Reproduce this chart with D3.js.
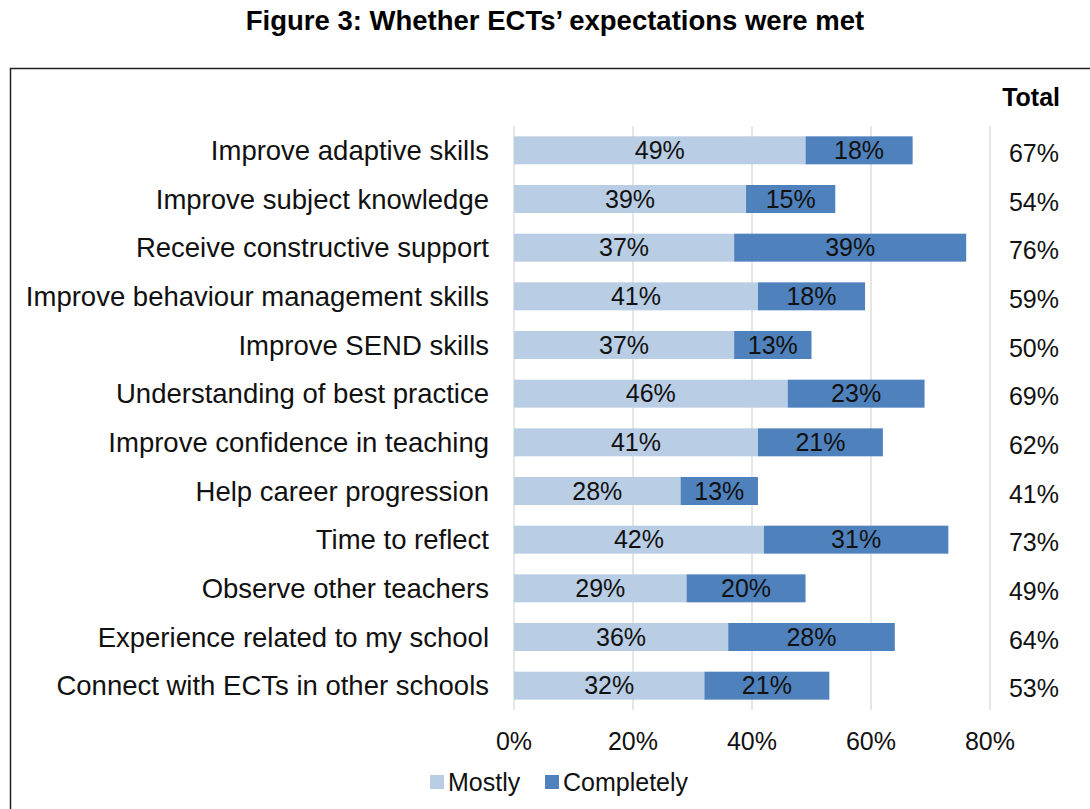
<!DOCTYPE html>
<html>
<head>
<meta charset="utf-8">
<script src="https://cdn.jsdelivr.net/npm/d3@7"></script>
<style>
  body { margin: 0; background: #fff; }
  svg { display: block; font-family: "Liberation Sans", Arial, sans-serif; }
</style>
</head>
<body>
<svg id="chart" width="1090" height="809"></svg>
<script>
// --- data ---
const categories = [
  "Improve adaptive skills",
  "Improve subject knowledge",
  "Receive constructive support",
  "Improve behaviour management skills",
  "Improve SEND skills",
  "Understanding of best practice",
  "Improve confidence in teaching",
  "Help career progression",
  "Time to reflect",
  "Observe other teachers",
  "Experience related to my school",
  "Connect with ECTs in other schools"
];
const mostly =     [49, 39, 37, 41, 37, 46, 41, 28, 42, 29, 36, 32];
const completely = [18, 15, 39, 18, 13, 23, 21, 13, 31, 20, 28, 21];
const totals =     [67, 54, 76, 59, 50, 69, 62, 41, 73, 49, 64, 53];
const xTicks = [0, 20, 40, 60, 80];
const seriesNames = ["Mostly", "Completely"];
const seriesColors = ["#b9cde5", "#4f81bd"];

// --- layout ---
const svg = d3.select("#chart");

svg.append("text")
  .attr("x", 555).attr("y", 30)
  .attr("text-anchor", "middle")
  .style("font-weight", "bold").style("font-size", "27.5px")
  .text("Figure 3: Whether ECTs\u2019 expectations were met");

// outer frame (runs off the right/bottom edge like the reference)
svg.append("rect")
  .attr("x", 10.5).attr("y", 68.5)
  .attr("width", 1100).attr("height", 800)
  .attr("fill", "none").attr("stroke", "#222").attr("stroke-width", 1.5);

const x = d3.scaleLinear().domain([0, 80]).range([514, 990]);
const y = d3.scaleBand().domain(categories).range([126, 710]).paddingInner(0.425).paddingOuter(0.2125);

// gridlines
svg.append("g").selectAll("line").data(xTicks).join("line")
  .attr("x1", d => x(d)).attr("x2", d => x(d))
  .attr("y1", 126).attr("y2", 710)
  .attr("stroke", "#d9d9d9").attr("stroke-width", 1.3);

// stacked bars
const rows = categories.map((c, i) => ({ c, m: mostly[i], k: completely[i], t: totals[i] }));

svg.append("g").selectAll("rect").data(rows).join("rect")
  .attr("x", x(0)).attr("y", d => y(d.c))
  .attr("width", d => x(d.m) - x(0)).attr("height", y.bandwidth())
  .attr("fill", seriesColors[0]);

svg.append("g").selectAll("rect").data(rows).join("rect")
  .attr("x", d => x(d.m)).attr("y", d => y(d.c))
  .attr("width", d => x(d.m + d.k) - x(d.m)).attr("height", y.bandwidth())
  .attr("fill", seriesColors[1]);

// bar value labels
const lbl = svg.append("g").style("font-size", "25px").attr("fill", "#111").attr("text-anchor", "middle");
lbl.selectAll("text.m").data(rows).join("text").attr("class", "m")
  .attr("x", d => (x(0) + x(d.m)) / 2)
  .attr("y", d => y(d.c) + y.bandwidth() / 2).attr("dy", "0.35em")
  .text(d => d.m + "%");
lbl.selectAll("text.k").data(rows).join("text").attr("class", "k")
  .attr("x", d => (x(d.m) + x(d.m + d.k)) / 2)
  .attr("y", d => y(d.c) + y.bandwidth() / 2).attr("dy", "0.35em")
  .text(d => d.k + "%");

// category labels
svg.append("g").style("font-size", "27.5px").attr("fill", "#111").attr("text-anchor", "end")
  .selectAll("text").data(rows).join("text")
  .attr("x", 489)
  .attr("y", d => y(d.c) + y.bandwidth() / 2).attr("dy", "0.35em")
  .text(d => d.c);

// totals column
svg.append("text")
  .attr("x", 1060).attr("y", 97).attr("dy", "0.35em")
  .attr("text-anchor", "end")
  .style("font-weight", "bold").style("font-size", "25px")
  .text("Total");
svg.append("g").style("font-size", "25px").attr("fill", "#111").attr("text-anchor", "end")
  .selectAll("text").data(rows).join("text")
  .attr("x", 1059)
  .attr("y", d => y(d.c) + y.bandwidth() / 2 + 3).attr("dy", "0.35em")
  .text(d => d.t + "%");

// x axis labels
svg.append("g").style("font-size", "25px").attr("fill", "#111").attr("text-anchor", "middle")
  .selectAll("text").data(xTicks).join("text")
  .attr("x", d => x(d)).attr("y", 741).attr("dy", "0.35em")
  .text(d => d + "%");

// legend
const legend = svg.append("g").style("font-size", "25px");
const legX = [430, 545];
seriesNames.forEach((s, i) => {
  legend.append("rect").attr("x", legX[i]).attr("y", 775).attr("width", 14).attr("height", 14).attr("fill", seriesColors[i]);
  legend.append("text").attr("x", legX[i] + 18).attr("y", 782).attr("dy", "0.35em").attr("fill", "#111").text(s);
});
</script>
</body>
</html>
